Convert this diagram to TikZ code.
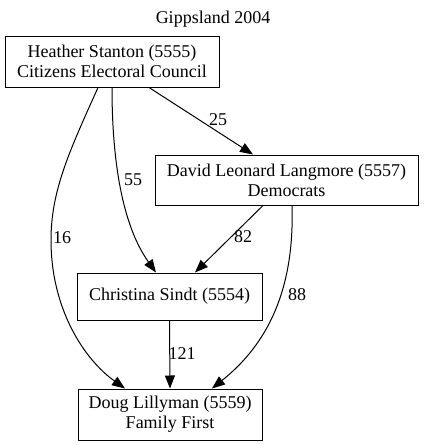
\documentclass[tikz,border=0pt]{standalone}
\usepackage{fontspec}
\setmainfont{Liberation Serif}
\usetikzlibrary{arrows.meta}
\begin{document}
\begin{tikzpicture}[x=1pt,y=-1pt,
  box/.style={draw,line width=1pt,rectangle,inner sep=0pt,align=center,font=\fontsize{18}{20}\selectfont},
  edge/.style={line width=1pt,-{Triangle[length=13pt,width=10pt]}},
  lab/.style={font=\fontsize{18}{20}\selectfont,inner sep=0pt}]
\useasboundingbox (0,0) rectangle (427,445);
\node[lab] (title) at (213,19) {Gippsland 2004};
\node[box,minimum width=214pt,minimum height=51pt] (h) at (112,61.5) {Heather Stanton (5555)\\Citizens Electoral Council};
\node[box,minimum width=263pt,minimum height=50pt] (d) at (286.5,180) {David Leonard Langmore (5557)\\Democrats};
\node[box,minimum width=185pt,minimum height=47pt] (c) at (169.5,296.5) {Christina Sindt (5554)};
\node[box,minimum width=184pt,minimum height=51pt] (f) at (170,414.5) {Doug Lillyman (5559)\\Family First};
\draw[edge] ([xshift=37pt]h.south) -- ([xshift=-33.5pt]d.north);
\node[lab] (l25) at (218,120) {25};
\draw[edge] (h.south) .. controls (112,160) and (122,225) .. ([xshift=-13.5pt]c.north);
\node[lab] (l55) at (133,180) {55};
\draw[edge] ([xshift=-14pt]h.south) .. controls (70,150) and (51,190) .. (51,240) .. controls (51,310) and (85,360) .. ([xshift=-45pt]f.north);
\node[lab] (l16) at (62,238) {16};
\draw[edge] ([xshift=-23.5pt]d.south) -- ([xshift=25.5pt]c.north);
\node[lab] (l82) at (243,237) {82};
\draw[edge] ([xshift=5.5pt]d.south) .. controls (295,300) and (260,350) .. ([xshift=42pt]f.north);
\node[lab] (l88) at (297,295) {88};
\draw[edge] (c.south) -- (f.north);
\node[lab] (l121) at (182,354) {121};
\end{tikzpicture}
\end{document}
